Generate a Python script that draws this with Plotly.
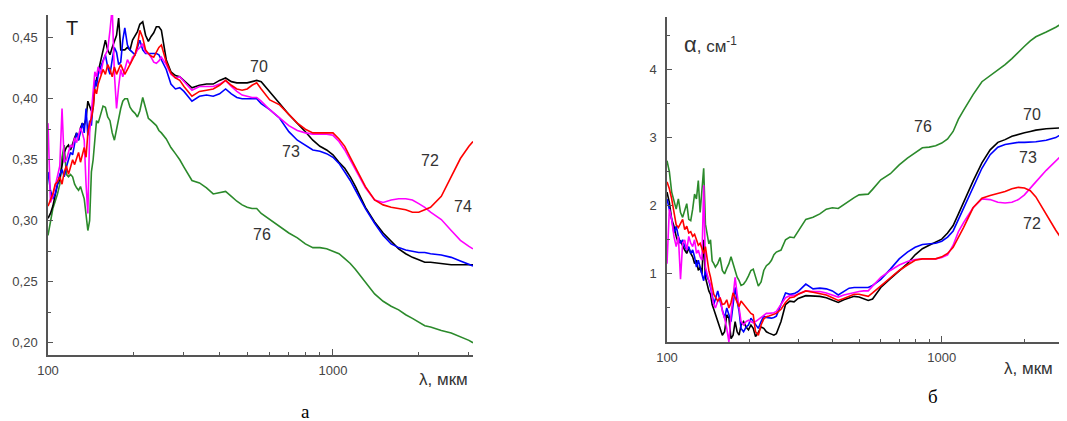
import plotly.graph_objects as go

# ---------------- data: panel a (transmission T) ----------------
LAM_T = [100, 102, 104, 106, 108, 110, 112, 114, 116, 118, 120, 122, 124, 126, 128, 130, 132, 134, 136, 138,
         140, 142, 144, 146, 148, 150, 153, 156, 159, 162, 165, 168, 171, 174, 177, 180, 183, 186,
         190, 194, 198, 202, 206, 210, 215, 220, 225, 230, 235, 240, 245, 250, 260, 270, 280,
         290, 300, 320, 340, 360, 380, 400, 420, 440, 460, 480, 500, 520, 540, 560, 600, 650, 700, 750,
         800, 850, 900, 950, 1000, 1050, 1100, 1150, 1200, 1300, 1400, 1500, 1600, 1700, 1800, 1900,
         2000, 2100, 2200, 2400, 2600, 2800, 3000, 3100]

T70 = [0.302, 0.306, 0.312, 0.322, 0.330, 0.334, 0.344, 0.356, 0.360, 0.362, 0.358, 0.364, 0.368, 0.372, 0.366,
       0.376, 0.380, 0.378, 0.384, 0.398, 0.394, 0.390, 0.392, 0.412, 0.416, 0.422,
       0.432, 0.440, 0.448, 0.440, 0.436, 0.442, 0.448, 0.452, 0.466, 0.440, 0.440, 0.440,
       0.442, 0.440, 0.448, 0.451, 0.455, 0.461,
       0.463, 0.452, 0.447, 0.451, 0.454, 0.459, 0.459, 0.456,
       0.432, 0.422, 0.419,
       0.418, 0.415, 0.409, 0.411, 0.412, 0.412, 0.415, 0.417, 0.414, 0.413, 0.413, 0.413, 0.414, 0.415, 0.414,
       0.406, 0.396, 0.387, 0.380, 0.373, 0.366, 0.361, 0.358, 0.354, 0.348, 0.343, 0.336, 0.328, 0.311, 0.299,
       0.290, 0.283, 0.277, 0.273, 0.270, 0.268, 0.266, 0.266, 0.265, 0.264, 0.264, 0.264, 0.264]

T72 = [0.312, 0.318, 0.322, 0.330, 0.332, 0.336, 0.330, 0.340, 0.345, 0.338, 0.344, 0.350, 0.346, 0.352, 0.356,
       0.348, 0.354, 0.360, 0.352, 0.372, 0.380, 0.384, 0.392, 0.408, 0.404, 0.412,
       0.418, 0.424, 0.420, 0.428, 0.424, 0.418, 0.426, 0.420, 0.424, 0.428, 0.424, 0.420,
       0.424, 0.428, 0.432, 0.436, 0.444, 0.456,
       0.450, 0.440, 0.437, 0.435, 0.434, 0.438, 0.442, 0.444,
       0.430, 0.421, 0.417,
       0.415, 0.410, 0.402, 0.406, 0.407, 0.408, 0.411, 0.415, 0.411, 0.408, 0.407, 0.408, 0.411, 0.413, 0.408,
       0.399, 0.395, 0.387, 0.380, 0.375, 0.372, 0.372, 0.372, 0.372, 0.367, 0.361, 0.352, 0.344, 0.328, 0.317,
       0.313, 0.311, 0.310, 0.309, 0.307, 0.307, 0.309, 0.311, 0.320, 0.336, 0.351, 0.361, 0.365]

T73 = [0.340, 0.325, 0.318, 0.322, 0.330, 0.338, 0.342, 0.336, 0.344, 0.350, 0.356, 0.354, 0.362, 0.372, 0.366,
       0.374, 0.380, 0.372, 0.392, 0.370, 0.382, 0.378, 0.395, 0.415, 0.410, 0.420,
       0.426, 0.432, 0.436, 0.426, 0.420, 0.432, 0.442, 0.438, 0.428, 0.430, 0.448, 0.458,
       0.444, 0.440, 0.438, 0.436, 0.442, 0.448,
       0.440, 0.437, 0.437, 0.437, 0.437, 0.437, 0.436, 0.432,
       0.424, 0.412, 0.408,
       0.409, 0.406, 0.398, 0.402, 0.403, 0.402, 0.404, 0.408, 0.404, 0.401, 0.400, 0.400, 0.400, 0.400, 0.396,
       0.391, 0.384, 0.373, 0.366, 0.362, 0.358, 0.357, 0.355, 0.352, 0.347, 0.340, 0.333, 0.325, 0.310, 0.298,
       0.288, 0.281, 0.278, 0.276, 0.275, 0.274, 0.274, 0.273, 0.272, 0.270, 0.267, 0.264, 0.263]

T74 = [0.380, 0.315, 0.320, 0.328, 0.336, 0.345, 0.392, 0.348, 0.350, 0.356, 0.362, 0.360, 0.368, 0.364, 0.370,
       0.376, 0.372, 0.366, 0.330, 0.306, 0.372, 0.388, 0.400, 0.422, 0.418, 0.426,
       0.420, 0.430, 0.436, 0.440, 0.456, 0.475, 0.420, 0.392, 0.410, 0.424, 0.418, 0.424,
       0.432, 0.428, 0.434, 0.436, 0.440, 0.442,
       0.445, 0.438, 0.437, 0.434, 0.430, 0.429, 0.431, 0.434,
       0.428, 0.420, 0.417,
       0.418, 0.414, 0.407, 0.410, 0.410, 0.410, 0.412, 0.415, 0.410, 0.406, 0.403, 0.402, 0.401, 0.401, 0.398,
       0.391, 0.384, 0.378, 0.374, 0.372, 0.371, 0.371, 0.371, 0.370, 0.365, 0.358, 0.350, 0.342, 0.327, 0.317,
       0.315, 0.317, 0.318, 0.318, 0.317, 0.314, 0.311, 0.307, 0.301, 0.292, 0.284, 0.279, 0.277]

T76 = [0.288, 0.300, 0.310, 0.316, 0.322, 0.330, 0.352, 0.362, 0.338, 0.336, 0.338, 0.336, 0.330, 0.327, 0.325,
       0.328, 0.322, 0.318, 0.305, 0.292, 0.300, 0.340, 0.350, 0.366, 0.382, 0.380,
       0.388, 0.394, 0.393, 0.385, 0.382, 0.372, 0.366, 0.376, 0.385, 0.392, 0.398, 0.400,
       0.400, 0.393, 0.390, 0.388, 0.385, 0.390,
       0.401, 0.392, 0.384, 0.382, 0.380, 0.378, 0.374, 0.372,
       0.367, 0.360, 0.355,
       0.350, 0.344, 0.333, 0.331, 0.327, 0.322, 0.323, 0.324, 0.320, 0.316, 0.313, 0.311, 0.310, 0.310, 0.306,
       0.301, 0.295, 0.290, 0.286, 0.281, 0.278, 0.278, 0.277, 0.275, 0.273, 0.269, 0.265, 0.260, 0.250, 0.240,
       0.234, 0.230, 0.227, 0.223, 0.220, 0.217, 0.214, 0.213, 0.210, 0.208, 0.205, 0.202, 0.200]

# ---------------- data: panel б (absorption α) ----------------
LAM_A = [100, 102, 104, 106, 108, 110, 112, 114, 116, 118, 120, 122, 124, 126, 128, 130, 132, 134, 136, 138,
         140, 142, 144, 146, 148, 150, 153, 156, 159, 162, 165, 168, 171, 174, 177, 180, 183, 186,
         190, 194, 198, 202, 206, 210, 215, 220, 225, 230, 235, 240, 245, 250, 260, 270, 280,
         290, 300, 320, 340, 360, 380, 400, 420, 440, 460, 480, 500, 520, 540, 560, 600, 650, 700, 750,
         800, 850, 900, 950, 1000, 1050, 1100, 1150, 1200, 1300, 1400, 1500, 1600, 1700, 1800, 1900,
         2000, 2100, 2200, 2400, 2600, 2800, 2900]

A70 = [2.20, 2.05, 1.80, 1.70, 1.55, 1.45, 1.48, 1.40, 1.35, 1.30, 1.38, 1.30, 1.25, 1.15, 1.20, 1.05, 1.10,
       1.00, 1.50, 0.95, 0.85, 0.75, 0.70, 0.55, 0.48, 0.40,
       0.30, 0.20, 0.10, 0.15, 0.40, 0.35, 0.05, 0.10, 0.30, 0.15, 0.10, 0.25,
       0.30, 0.22, 0.18, 0.25, 0.20, 0.08,
       0.14, 0.22, 0.20, 0.15, 0.13, 0.11, 0.10, 0.12,
       0.30, 0.55, 0.60,
       0.59, 0.64, 0.68, 0.67, 0.67, 0.65, 0.61, 0.58, 0.62, 0.65, 0.67, 0.66, 0.63, 0.61, 0.63, 0.80, 0.93,
       1.05, 1.15, 1.28, 1.37, 1.42, 1.46, 1.51, 1.60, 1.71, 1.88, 2.05, 2.36, 2.63, 2.82, 2.93, 2.97, 3.02,
       3.05, 3.07, 3.09, 3.11, 3.13, 3.14, 3.14, 3.15]

A72 = [2.35, 2.25, 2.10, 1.90, 1.72, 1.68, 1.75, 1.80, 1.65, 1.70, 1.60, 1.62, 1.55, 1.58, 1.50, 1.42, 1.45,
       1.38, 1.30, 1.40, 1.20, 1.05, 0.95, 0.80, 0.70, 0.66,
       0.60, 0.65, 0.55, 0.56, 0.62, 0.50, 0.58, 0.72, 0.65, 0.60, 0.52, 0.60,
       0.55, 0.50, 0.45, 0.42, 0.40, 0.15,
       0.10, 0.25, 0.34, 0.37, 0.38, 0.39, 0.40, 0.42,
       0.48, 0.58, 0.65,
       0.66, 0.70, 0.75, 0.73, 0.71, 0.69, 0.65, 0.61, 0.64, 0.67, 0.70, 0.70, 0.68, 0.67, 0.72, 0.82, 0.95,
       1.05, 1.13, 1.20, 1.22, 1.22, 1.22, 1.25, 1.30, 1.39, 1.53, 1.68, 1.97, 2.11, 2.15, 2.18, 2.21, 2.25,
       2.27, 2.26, 2.22, 2.13, 1.88, 1.64, 1.45, 1.38]

A73 = [2.10, 1.95, 1.80, 1.60, 1.70, 1.55, 1.45, 1.50, 1.40, 1.35, 1.40, 1.30, 1.35, 1.25, 1.10, 1.20, 1.10,
       1.00, 0.90, 1.05, 0.95, 0.90, 0.80, 0.70, 0.55, 0.62,
       0.75, 0.60, 0.45, 0.35, 0.50, 0.40, 0.30, 0.55, 0.80, 0.60, 0.45, 0.20,
       0.15, 0.22, 0.25, 0.35, 0.30, 0.25,
       0.20, 0.30, 0.38, 0.36, 0.35, 0.35, 0.36, 0.38,
       0.55, 0.72, 0.70,
       0.71, 0.74, 0.85, 0.78, 0.79, 0.78, 0.75, 0.69, 0.74, 0.79, 0.80, 0.80, 0.80, 0.80, 0.83, 0.92, 1.07,
       1.22, 1.32, 1.39, 1.43, 1.44, 1.45, 1.48, 1.54, 1.63, 1.80, 1.98, 2.29, 2.55, 2.75, 2.86, 2.90, 2.92,
       2.93, 2.93, 2.93, 2.94, 2.96, 3.00, 3.08, 3.12]

A74 = [1.15, 1.95, 1.80, 1.55, 1.40, 1.55, 0.92, 1.45, 1.50, 1.35, 1.55, 1.45, 1.40, 1.50, 1.30, 1.35, 1.25,
       1.20, 2.30, 1.10, 1.00, 0.90, 0.85, 0.65, 0.55, 0.50,
       0.60, 0.66, 0.45, 0.35, 0.20, 0.00, 0.40, 0.65, 0.95, 0.70, 0.50, 0.30,
       0.25, 0.30, 0.32, 0.30, 0.28, 0.30,
       0.33, 0.36, 0.40, 0.42, 0.42, 0.42, 0.43, 0.45,
       0.55, 0.65, 0.68,
       0.68, 0.70, 0.75, 0.74, 0.74, 0.72, 0.69, 0.66, 0.69, 0.71, 0.72, 0.74, 0.75, 0.75, 0.82, 0.95, 1.05,
       1.13, 1.18, 1.21, 1.22, 1.22, 1.22, 1.24, 1.28, 1.42, 1.62, 1.75, 1.97, 2.10, 2.09, 2.05, 2.04, 2.05,
       2.09, 2.16, 2.25, 2.35, 2.52, 2.66, 2.79, 2.84]

A76 = [2.66, 2.50, 2.20, 2.08, 1.95, 2.10, 1.90, 1.83, 1.95, 2.03, 1.80, 1.78, 1.95, 2.17, 2.10, 2.37, 1.90,
       2.30, 2.55, 1.73, 1.60, 1.44, 1.50, 1.19, 1.15, 1.10,
       1.15, 1.24, 1.05, 1.00, 1.08, 1.15, 1.25, 1.15, 1.05, 0.95, 0.90, 0.83,
       0.85, 0.90, 0.97, 1.05, 1.07, 0.95,
       0.82, 0.88, 1.05, 1.12, 1.15, 1.20, 1.28, 1.32,
       1.35, 1.50, 1.54,
       1.53, 1.62, 1.80, 1.83, 1.88, 1.95, 1.97, 1.96, 2.02, 2.07, 2.12, 2.16, 2.17, 2.17, 2.24, 2.38, 2.47,
       2.60, 2.70, 2.78, 2.85, 2.86, 2.88, 2.92, 2.98, 3.09, 3.27, 3.40, 3.63, 3.82, 3.91, 3.99, 4.07, 4.16,
       4.26, 4.34, 4.42, 4.48, 4.55, 4.62, 4.70, 4.74]

# tick labels
T_TICKS = [0.20, 0.25, 0.30, 0.35, 0.40, 0.45]
T_TICKTEXT = ["0,20", "0,25", "0,30", "0,35", "0,40", "0,45"]
A_TICKS = [1, 2, 3, 4]
A_TICKTEXT = ["1", "2", "3", "4"]
X_TICKS = [100, 1000]
X_TICKTEXT = ["100", "1000"]
X_MINOR = [200, 300, 400, 500, 600, 700, 800, 900, 2000, 3000]

COLORS = {"70": "#000000", "72": "#ff0000", "73": "#0000ff", "74": "#ff00ff", "76": "#2b8a2b"}

# the page body has an 8px default margin: the figure fills the rest of the 1067x421 window
OFF = 8
W, H = 1067 - OFF, 421 - OFF


def fx(px):
    return (px - OFF) / W


def fy(py):
    return 1 - (py - OFF) / H


fig = go.Figure()

left = [("76", T76), ("70", T70), ("73", T73), ("74", T74), ("72", T72)]
for name, ys in left:
    fig.add_trace(go.Scatter(x=LAM_T, y=ys, mode="lines", name=name,
                             line=dict(color=COLORS[name], width=1.6),
                             xaxis="x", yaxis="y", showlegend=False))
right = [("76", A76), ("70", A70), ("73", A73), ("74", A74), ("72", A72)]
for name, ys in right:
    fig.add_trace(go.Scatter(x=LAM_A, y=ys, mode="lines", name=name,
                             line=dict(color=COLORS[name], width=1.6),
                             xaxis="x2", yaxis="y2", showlegend=False))

axis_col = "#555555"
tick_font = dict(family="Liberation Sans, Arial, sans-serif", size=13, color="#444444")

common_x = dict(type="log", showgrid=False, zeroline=False, showline=True, linecolor=axis_col, linewidth=1.5,
                ticks="inside", ticklen=6, tickwidth=1.2, tickcolor=axis_col, automargin=False,
                tickmode="array", tickvals=X_TICKS, ticktext=X_TICKTEXT, tickfont=tick_font,
                ticklabelstandoff=3,
                minor=dict(tickmode="array", tickvals=X_MINOR, ticks="inside", ticklen=3,
                           tickwidth=1, tickcolor=axis_col, showgrid=False))
common_y = dict(showgrid=False, zeroline=False, showline=True, linecolor=axis_col, linewidth=1.5,
                ticks="inside", ticklen=5, tickwidth=1.2, tickcolor=axis_col, tickfont=tick_font,
                tickmode="array", automargin=False, ticklabelstandoff=6)

fig.update_layout(
    width=W, height=H, margin=dict(l=0, r=0, t=0, b=0, autoexpand=False),
    paper_bgcolor="white", plot_bgcolor="white",
    xaxis=dict(common_x, domain=[fx(48), fx(473)], range=[2, 3.4914], anchor="y"),
    yaxis=dict(common_y, domain=[fy(355), fy(15)], range=[0.19, 0.4686],
               tickvals=T_TICKS, ticktext=T_TICKTEXT, anchor="x",
               minor=dict(dtick=0.025, ticks="inside", ticklen=3, tickwidth=1, tickcolor=axis_col, showgrid=False)),
    xaxis2=dict(common_x, domain=[fx(667), 1.0], range=[2, 3.4558], anchor="y2"),
    yaxis2=dict(common_y, domain=[fy(342), fy(17)], range=[0, 4.77],
                tickvals=A_TICKS, ticktext=A_TICKTEXT, anchor="x2",
                minor=dict(dtick=0.5, ticks="inside", ticklen=3, tickwidth=1, tickcolor=axis_col, showgrid=False)),
)


def ann(text, px, py, size=15, family="Liberation Sans, Arial, sans-serif", color="#333333",
        xanchor="center"):
    fig.add_annotation(text=text, x=fx(px), y=fy(py), xref="paper", yref="paper",
                       showarrow=False, xanchor=xanchor, yanchor="middle",
                       font=dict(size=size, family=family, color=color))


# axis titles
ann("T", 72, 28, size=20, color="#1a1a1a")
ann("λ, мкм", 443, 379, size=17)
ann("<span style='font-size:22px'>α</span>, см<sup>-1</sup>", 682, 44, size=17, xanchor="left")
ann("λ, мкм", 1028, 368, size=17)
# curve labels, panel a
ann("70", 259, 66, size=16)
ann("73", 291, 151, size=16)
ann("72", 430, 160, size=16)
ann("74", 463, 207, size=16)
ann("76", 262, 234, size=16)
# curve labels, panel б
ann("76", 923, 126, size=16)
ann("70", 1032, 114, size=16)
ann("73", 1028, 157, size=16)
ann("72", 1032, 223, size=16)
ann("74", 1058, 175, size=16, xanchor="left")
# panel letters
ann("а", 305, 411, size=19, family="Liberation Serif, Times New Roman, serif", color="#000000")
ann("б", 933, 396, size=19, family="Liberation Serif, Times New Roman, serif", color="#000000")

fig.write_html("out.html")
